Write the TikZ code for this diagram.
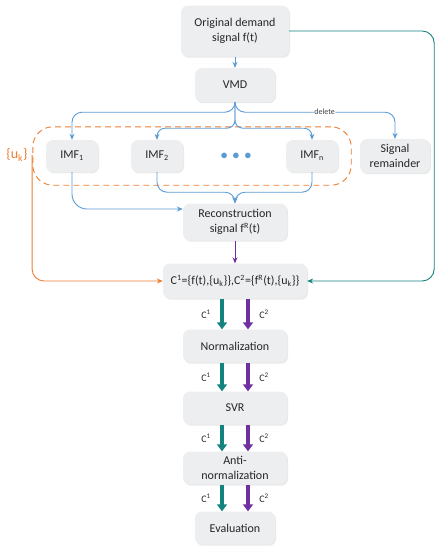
\documentclass[tikz,border=0pt]{standalone}
\usepackage{fontspec}
\setmainfont{Carlito}
\usetikzlibrary{arrows.meta,positioning,fit,shadows}
\definecolor{vmdblue}{HTML}{5B9BD5}
\definecolor{ukorange}{HTML}{ED7D31}
\definecolor{cteal}{HTML}{14837F}
\definecolor{cpurple}{HTML}{7030A0}
\definecolor{boxgray}{HTML}{EDEEF0}

\begin{document}
\begin{tikzpicture}[x=1pt,y=-1pt,>={Stealth[length=6pt,width=5pt]},
  font=\fontsize{12}{14.5}\selectfont,text=black!85,
  box/.style={fill=boxgray,rounded corners=7pt,align=center,inner sep=2pt,
    drop shadow={opacity=.18,shadow xshift=1pt,shadow yshift=-1.2pt}},
  arr/.style={->,vmdblue,line width=.9pt,rounded corners=10pt},
  uarr/.style={->,ukorange,line width=.9pt,rounded corners=12pt},
  tarr/.style={->,cteal,line width=.9pt,rounded corners=12pt},
  parr/.style={->,cpurple,line width=.9pt},
  fat/.style={line width=4pt,-{Triangle[length=7pt,width=10pt]}},
  lab/.style={font=\fontsize{10}{12}\selectfont,text=black!85}]
\useasboundingbox (0,0) rectangle (442,550);
% decomposition part
\node[box,minimum width=108pt,minimum height=51pt] (orig) at (235,31) {Original demand\\signal f(t)};
\node[box,minimum width=80pt,minimum height=34pt] (vmd) at (235,85) {VMD};
\node[box,minimum width=52pt,minimum height=32pt] (imf1) at (72,156) {IMF\textsubscript{1}};
\node[box,minimum width=52pt,minimum height=32pt] (imf2) at (157,156) {IMF\textsubscript{2}};
\node[text=vmdblue,font=\fontsize{14}{14}\selectfont] (dots) at (236,156) {$\bullet$\,\,$\bullet$\,\,$\bullet$};
\node[box,minimum width=52pt,minimum height=32pt] (imfn) at (312,156) {IMF\textsubscript{n}};
\node[box,minimum width=70pt,minimum height=34pt] (rem) at (395,156) {Signal\\remainder};
\node[draw=ukorange,dash pattern=on 6pt off 4pt,line width=.9pt,rounded corners=20pt,
  fit=(imf1)(imfn),inner xsep=13pt,inner ysep=13pt] (imfset) {};
\node[text=ukorange,font=\fontsize{14}{16}\selectfont] (uk) at (17,155) {\{u\textsubscript{k}\}};
\node[box,minimum width=104pt,minimum height=37pt] (recon) at (235,222) {Reconstruction\\signal f\textsuperscript{R}(t)};
% prediction part
\node[box,minimum width=144pt,minimum height=35pt] (cset) at (235,281)
  {C\textsuperscript{1}=\{f(t),\{u\textsubscript{k}\}\},C\textsuperscript{2}=\{f\textsuperscript{R}(t),\{u\textsubscript{k}\}\}};
\node[box,minimum width=104pt,minimum height=33pt] (norm) at (235,346) {Normalization};
\node[box,minimum width=104pt,minimum height=33pt] (svr) at (235,408) {SVR};
\node[box,minimum width=104pt,minimum height=33pt] (anti) at (235,468) {Anti-\\normalization};
\node[box,minimum width=80pt,minimum height=33pt] (eval) at (235,528) {Evaluation};
\draw[arr] (orig) -- (vmd);
\draw[arr] (vmd.south) -- ++(0,10) -| (imf1.north);
\draw[arr,rounded corners=8pt] (vmd.south) -- ++(0,26) -| (imf2.north);
\draw[arr,rounded corners=8pt] (vmd.south) -- ++(0,26) -| (imfn.north);
\draw[arr] (vmd.south) -- ++(0,10) -| node[pos=.28,fill=white,inner sep=.5pt,
  font=\fontsize{8}{9}\selectfont,text=black!75] {delete} (rem.north);
\draw[arr,rounded corners=15pt] (imf1.south) |- ([yshift=13pt]recon.west);
\draw[arr] (imf2.south) -- ++(0,20) -| (recon.north);
\draw[arr] (imfn.south) -- ++(0,20) -| (recon.north);
\draw[parr] (recon) -- (cset);
\draw[uarr] ([xshift=1pt]uk.east) |- (cset.west);
\draw[tarr] (orig.east) -- ++(145,0) |- (cset.east);
\foreach \a/\b in {cset/norm,norm/svr,svr/anti,anti/eval}{
  \draw[fat,cteal] ([xshift=-13pt]\a.south) -- node[left=6pt,lab] {C\textsuperscript{1}} ([xshift=-13pt]\b.north);
  \draw[fat,cpurple] ([xshift=13pt]\a.south) -- node[right=6pt,lab] {C\textsuperscript{2}} ([xshift=13pt]\b.north);
}
\end{tikzpicture}
\end{document}
